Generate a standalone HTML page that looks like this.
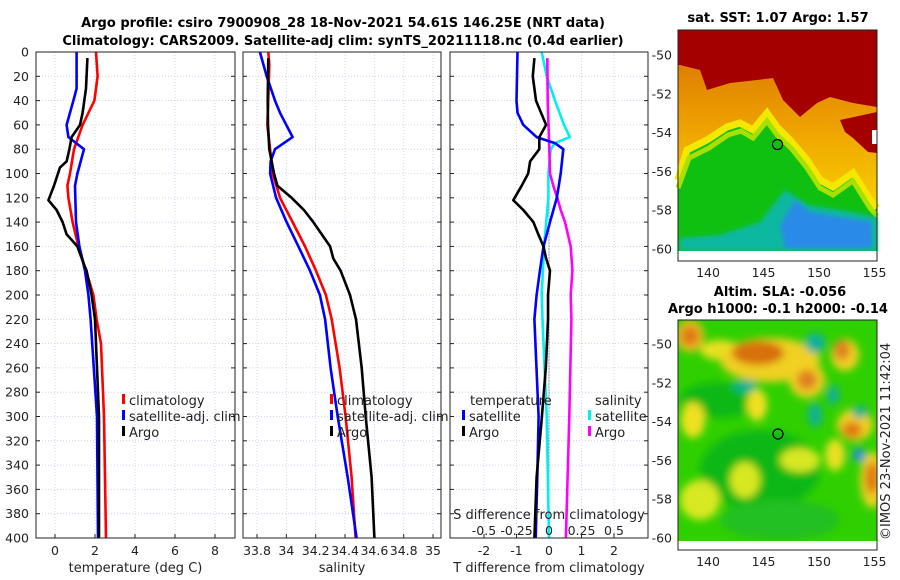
<!DOCTYPE html>
<html><head><meta charset="utf-8"><style>
body{margin:0;background:#fff;}
svg{display:block;font-family:"DejaVu Sans","Liberation Sans",sans-serif;}
.t{font-size:13px;fill:#222;}
.tk{font-size:12.5px;fill:#222;}
.b{font-size:13px;font-weight:bold;fill:#000;}
</style></head><body>
<svg id="fig" width="900" height="580" viewBox="0 0 900 580">
<defs>
<clipPath id="c1"><rect x="36" y="52" width="199" height="486"/></clipPath>
<clipPath id="c2"><rect x="243" y="52" width="198" height="486"/></clipPath>
<clipPath id="c3"><rect x="450" y="52" width="198" height="486"/></clipPath>
<clipPath id="m2"><rect x="678" y="320" width="199" height="221"/></clipPath>
<filter id="bl" x="-50%" y="-50%" width="200%" height="200%"><feGaussianBlur stdDeviation="4"/></filter>
<filter id="bl2"><feGaussianBlur stdDeviation="2"/></filter>
<linearGradient id="og" x1="0" y1="0" x2="0" y2="1"><stop offset="0" stop-color="#d86a00"/><stop offset="0.6" stop-color="#f0a800"/><stop offset="1" stop-color="#f8d000"/></linearGradient>
</defs>
<text class="b" x="343" y="27" text-anchor="middle">Argo profile: csiro 7900908_28 18-Nov-2021 54.61S 146.25E (NRT data)</text>
<text class="b" x="343" y="45" text-anchor="middle">Climatology: CARS2009. Satellite-adj clim: synTS_20211118.nc (0.4d earlier)</text>
<g id="axes"></g>

<g>
<rect x="678" y="30" width="199" height="221" fill="#10c010"/>
<polygon fill="url(#og)" points="678,30 877,30 877,208 870,200 853,173 833,187 820,180 807,160 790,140 777,127 767,113 753,130 740,123 727,127 707,140 687,150 678,180"/>
<polyline fill="none" stroke="#f4e800" stroke-width="7" points="678,180 687,150 707,140 727,127 740,123 753,130 767,113 777,127 790,140 807,160 820,180 833,187 853,173 870,200 877,208"/>
<polyline fill="none" stroke="#a8e000" stroke-width="5" points="678,188 689,158 709,148 728,135 741,131 753,138 767,121 777,135 791,148 807,168 820,188 833,195 853,181 870,208 877,216"/>
<polygon fill="#a50000" points="678,30 877,30 877,107 853,103 830,97 817,103 800,117 783,100 773,78 757,80 730,83 707,90 700,70 680,65 678,65"/>
<polygon fill="#a50000" points="840,120 877,112 877,153 868,152 853,138 845,132"/>
<rect x="872" y="130" width="5" height="14" fill="#fff"/>
<polygon fill="#10b8a0" filter="url(#bl2)" points="785,190 808,205 840,210 877,217 877,251 680,251 680,238 720,235 760,222"/>
<polygon fill="#2a8ae8" filter="url(#bl2)" points="795,200 810,212 840,217 872,222 872,248 785,248 780,225"/>
<rect x="678" y="251" width="199" height="10" fill="#fff"/>
<circle cx="777.5" cy="144.5" r="5" fill="none" stroke="#000" stroke-width="1.2"/>
<rect x="678" y="30" width="199" height="231" fill="none" stroke="#222" stroke-width="1"/>
</g>
<text class="b" x="778" y="22" text-anchor="middle">sat. SST: 1.07 Argo: 1.57</text>

<g>
<rect x="678" y="320" width="199" height="221" fill="#30d000"/>
<g clip-path="url(#m2)" filter="url(#bl)">
<ellipse cx="760" cy="470" rx="60" ry="40" fill="#10b818"/>
<ellipse cx="720" cy="400" rx="40" ry="18" fill="#10b818"/>
<ellipse cx="780" cy="520" rx="60" ry="20" fill="#20c020"/>
<ellipse cx="693" cy="420" rx="12" ry="18" fill="#f0e020"/>
<ellipse cx="720" cy="350" rx="20" ry="10" fill="#e8e020"/>
<ellipse cx="757" cy="405" rx="10" ry="16" fill="#f0e020"/>
<ellipse cx="700" cy="500" rx="20" ry="20" fill="#d8e820"/>
<ellipse cx="745" cy="480" rx="15" ry="18" fill="#d8e820"/>
<ellipse cx="800" cy="460" rx="20" ry="12" fill="#d8e820"/>
<ellipse cx="835" cy="455" rx="10" ry="16" fill="#e8e020"/>
<ellipse cx="770" cy="360" rx="50" ry="22" fill="#f0d020"/>
<ellipse cx="690" cy="336" rx="14" ry="16" fill="#f0c020"/>
<ellipse cx="807" cy="380" rx="18" ry="18" fill="#f0d020"/>
<ellipse cx="845" cy="355" rx="14" ry="16" fill="#f0d020"/>
<ellipse cx="855" cy="425" rx="18" ry="16" fill="#f0d020"/>
<ellipse cx="872" cy="480" rx="12" ry="28" fill="#f0d020"/>
<ellipse cx="690" cy="336" rx="9" ry="10" fill="#e07818"/>
<ellipse cx="758" cy="353" rx="26" ry="12" fill="#d87010"/>
<ellipse cx="807" cy="380" rx="10" ry="10" fill="#e08020"/>
<ellipse cx="842" cy="350" rx="8" ry="10" fill="#e08020"/>
<ellipse cx="852" cy="430" rx="10" ry="8" fill="#e07818"/>
<ellipse cx="872" cy="478" rx="7" ry="16" fill="#e07818"/>
<ellipse cx="815" cy="343" rx="10" ry="10" fill="#10b0a0"/>
<ellipse cx="745" cy="386" rx="12" ry="6" fill="#10b098"/>
<ellipse cx="815" cy="415" rx="7" ry="12" fill="#10b098"/>
<ellipse cx="833" cy="395" rx="6" ry="10" fill="#10b098"/>
<ellipse cx="860" cy="412" rx="8" ry="6" fill="#10b098"/>
<ellipse cx="859" cy="455" rx="6" ry="7" fill="#2090e0"/>
</g>
<rect x="678" y="541" width="199" height="9" fill="#fff"/>
<circle cx="778" cy="434" r="5" fill="none" stroke="#000" stroke-width="1.2"/>
<rect x="678" y="320" width="199" height="230" fill="none" stroke="#222" stroke-width="1"/>
</g>
<text class="b" x="780" y="296" text-anchor="middle">Altim. SLA: -0.056</text>
<text class="b" x="778" y="313" text-anchor="middle">Argo h1000: -0.1 h2000: -0.14</text>
<text class="t" transform="translate(890,540) rotate(-90)">©IMOS 23-Nov-2021 11:42:04</text>
</svg>
<script>
// ---- data ----
const depthTicks = [0,20,40,60,80,100,120,140,160,180,200,220,240,260,280,300,320,340,360,380,400];
const tempTicks = [0,2,4,6,8];
const salTicks = [33.8,34,34.2,34.4,34.6,34.8,35];
const salTickLabels = ["33.8","34","34.2","34.4","34.6","34.8","35"];
const tdiffTicks = [-2,-1,0,1,2];
const sdiffTicks = [-0.5,-0.25,0,0.25,0.5];
const sdiffTickLabels = ["-0.5","-0.25","0","0.25","0.5"];

const climDepth = [0,20,40,60,80,100,110,120,140,160,180,200,220,240,300,400];
const climTemp = [2.05,2.13,1.97,1.38,0.95,0.75,0.62,0.67,0.88,1.17,1.55,1.92,2.08,2.3,2.45,2.55];
const satDepth = [0,30,40,60,70,80,100,110,140,160,180,200,220,300,400];
const satTemp = [1.08,1.08,0.92,0.58,0.67,1.45,1.12,1.0,1.05,1.22,1.5,1.67,1.78,2.1,2.15];
const argoDepth = [5,30,50,60,70,80,90,95,110,122,130,140,150,160,175,180,200,220,300,400];
const argoTemp = [1.62,1.55,1.38,1.25,0.83,0.72,0.58,0.25,-0.05,-0.33,0.08,0.38,0.58,1.12,1.45,1.58,1.83,2.0,2.2,2.2];

const climSalDepth = [0,10,40,60,80,100,120,140,160,180,200,220,260,300,350,400];
const climSal = [33.877,33.884,33.877,33.870,33.889,33.907,33.957,34.043,34.127,34.202,34.270,34.309,34.363,34.404,34.445,34.472];
const satSalDepth = [0,20,40,50,70,80,90,100,120,140,160,180,200,220,260,300,350,400];
const satSal = [33.82,33.866,33.923,33.957,34.043,33.923,33.893,33.889,33.93,34.002,34.082,34.161,34.229,34.264,34.302,34.350,34.418,34.479];
const argoSalDepth = [5,40,60,80,90,100,110,120,130,140,160,170,180,200,220,260,300,350,400];
const argoSal = [33.877,33.873,33.875,33.884,33.9,33.916,33.939,34.036,34.12,34.184,34.298,34.32,34.37,34.434,34.475,34.514,34.541,34.581,34.6];

const satTdiffDepth = [0,40,50,60,70,75,80,100,110,120,140,160,180,200,220,270,300,350,400];
const satTdiff = [-0.97,-1.0,-0.97,-0.79,-0.38,0.18,0.44,0.36,0.3,0.24,0.03,-0.17,-0.28,-0.38,-0.45,-0.37,-0.32,-0.36,-0.41];
const argoTdiffDepth = [5,20,40,60,70,80,90,100,110,122,130,140,150,160,170,180,200,220,260,300,350,400];
const argoTdiff = [-0.45,-0.5,-0.4,-0.09,-0.3,-0.3,-0.58,-0.64,-0.84,-1.1,-0.79,-0.48,-0.33,-0.17,-0.09,0.03,-0.03,-0.03,-0.1,-0.22,-0.38,-0.45];
const satSdiffDepth = [0,20,40,60,70,75,80,100,120,160,200,220,300,400];
const satSdiff = [-0.056,-0.018,0.046,0.115,0.16,0.046,0.013,-0.005,-0.005,-0.038,-0.056,-0.05,-0.018,0.0];
const argoSdiffDepth = [5,40,80,100,110,120,130,140,160,180,200,220,300,400];
const argoSdiff = [-0.013,-0.01,0.002,0.008,0.033,0.064,0.09,0.123,0.167,0.18,0.167,0.172,0.156,0.13];

// ---- drawing ----
const NS = 'http://www.w3.org/2000/svg';
const root = document.getElementById('axes');
function mk(tag, attrs, parent){const e=document.createElementNS(NS,tag);for(const k in attrs)e.setAttribute(k,attrs[k]);(parent||root).appendChild(e);return e;}
const Y0=52, Y1=538;
function yScale(d){return Y0+(d/400)*(Y1-Y0);}
const tX = v => 55 + v*20;
const sX = v => 257 + (v-33.8)*146.7;
const dX = v => 549 + v*32.5;
const sdX = v => 549 + v*130;

const panels = [
 {x:36,w:199,fx:tX,ticks:tempTicks,labels:tempTicks.map(String),xlabel:'temperature (deg C)',name:'temperature-panel',clip:'c1',ylab:true},
 {x:243,w:198,fx:sX,ticks:salTicks,labels:salTickLabels,xlabel:'salinity',name:'salinity-panel',clip:'c2'},
 {x:450,w:198,fx:dX,ticks:tdiffTicks,labels:tdiffTicks.map(String),xlabel:'T difference from climatology',name:'difference-panel',clip:'c3'}
];
panels.forEach(p=>{
  const g = mk('g',{});
  
  
  p.g = g;
  depthTicks.forEach(d=>{
    const y=yScale(d);
    const l=mk('line',{x1:p.x,x2:p.x+p.w,y1:y,y2:y,stroke:'#c4cdee','stroke-width':0.8,'stroke-dasharray':'1,2'},g);
    
    
    mk('line',{x1:p.x,x2:p.x+4,y1:y,y2:y,stroke:'#222'},g);
    mk('line',{x1:p.x+p.w-4,x2:p.x+p.w,y1:y,y2:y,stroke:'#222'},g);
    if(p.ylab){
      const t=mk('text',{x:29,y:y+4.5,'text-anchor':'end',class:'tk'},g);
      t.textContent=d;
      
      
    }
  });
  p.ticks.forEach((v,i)=>{
    const x=p.fx(v);
    const l=mk('line',{x1:x,x2:x,y1:Y0,y2:Y1,stroke:'#c4cdee','stroke-width':0.8,'stroke-dasharray':'1,2'},g);
    
    
    mk('line',{x1:x,x2:x,y1:Y1,y2:Y1-4,stroke:'#222'},g);
    const t=mk('text',{x:x,y:555,'text-anchor':'middle',class:'tk'},g);
    t.textContent=p.labels[i];
    
    
  });
  const xl=mk('text',{x:p.x+p.w/2,y:572,'text-anchor':'middle',class:'t'},g);
  xl.textContent=p.xlabel;
  
  
});

function series(p, depths, vals, fx, color, name){
  const pts = vals.map((v,i)=>fx(v).toFixed(1)+','+yScale(depths[i]).toFixed(1)).join(' ');
  const l = mk('polyline',{points:pts,fill:'none',stroke:color,'stroke-width':2.6,'stroke-linejoin':'round','clip-path':'url(#'+p.clip+')'},p.g);
  
  
}
const zl = mk('line',{x1:dX(0),x2:dX(0),y1:yScale(100),y2:Y1,stroke:'#333','stroke-width':1,'stroke-dasharray':'1,2'},panels[2].g);



series(panels[0], climDepth, climTemp, tX, '#ff0000', 'climatology-temperature-line');
series(panels[0], satDepth, satTemp, tX, '#0000ff', 'satellite-temperature-line');
series(panels[0], argoDepth, argoTemp, tX, '#000000', 'argo-temperature-line');
series(panels[1], climSalDepth, climSal, sX, '#ff0000', 'climatology-salinity-line');
series(panels[1], satSalDepth, satSal, sX, '#0000ff', 'satellite-salinity-line');
series(panels[1], argoSalDepth, argoSal, sX, '#000000', 'argo-salinity-line');
series(panels[2], satSdiffDepth, satSdiff, sdX, '#00f0f0', 'satellite-salinity-diff-line');
series(panels[2], argoSdiffDepth, argoSdiff, sdX, '#ff00ff', 'argo-salinity-diff-line');
series(panels[2], satTdiffDepth, satTdiff, dX, '#0000ff', 'satellite-temperature-diff-line');
series(panels[2], argoTdiffDepth, argoTdiff, dX, '#000000', 'argo-temperature-diff-line');

const sdt = mk('text',{x:549,y:519,'text-anchor':'middle',class:'t'},panels[2].g);
sdt.textContent='S difference from climatology';


sdiffTicks.forEach((v,i)=>{
  const t=mk('text',{x:sdX(v),y:535,'text-anchor':'middle',class:'tk'},panels[2].g);
  t.textContent=sdiffTickLabels[i];
  
  
});

panels.forEach(p=>{
  const r=mk('rect',{x:p.x,y:Y0,width:p.w,height:Y1-Y0,fill:'none',stroke:'#222','stroke-width':1},p.g);
  
  
});

function legendItem(g, bx, y, color, label){
  if(color){mk('rect',{x:bx,y:y-7,width:3,height:10,fill:color},g);}
  const t=mk('text',{x:bx+(color?7:0),y:y+4,class:'t'},g);
  t.textContent=label;
  
  
}
[[panels[0],122],[panels[1],330]].forEach(([p,bx])=>{
  legendItem(p.g,bx,401,'#ff0000','climatology');
  legendItem(p.g,bx,417,'#0000ff','satellite-adj. clim');
  legendItem(p.g,bx,433,'#000000','Argo');
});
legendItem(panels[2].g,470,401,null,'temperature');
legendItem(panels[2].g,462,417,'#0000ff','satellite');
legendItem(panels[2].g,462,433,'#000000','Argo');
legendItem(panels[2].g,595,401,null,'salinity');
legendItem(panels[2].g,588,417,'#00f0f0','satellite');
legendItem(panels[2].g,588,433,'#ff00ff','Argo');

const latTicks = [-50,-52,-54,-56,-58,-60];
const lonTicks = [140,145,150,155];
function mapAxes(top, lat50y, bottom, name){
  const g = mk('g',{});
  
  
  latTicks.forEach(v=>{
    const y = lat50y + (-50 - v)*19.4;
    mk('line',{x1:678,x2:682,y1:y,y2:y,stroke:'#222'},g);
    mk('line',{x1:873,x2:877,y1:y,y2:y,stroke:'#222'},g);
    const t=mk('text',{x:672,y:y+4.5,'text-anchor':'end',class:'tk'},g);
    t.textContent=v;
    
    
  });
  lonTicks.forEach(v=>{
    const x = 708 + (v-140)*11.1;
    mk('line',{x1:x,x2:x,y1:bottom,y2:bottom-4,stroke:'#222'},g);
    const t=mk('text',{x:x,y:bottom+16,'text-anchor':'middle',class:'tk'},g);
    t.textContent=v;
    
    
  });
}
mapAxes(30,55,261,'sst-map-axes');
mapAxes(320,344,550,'sla-map-axes');
</script>
</body></html>
